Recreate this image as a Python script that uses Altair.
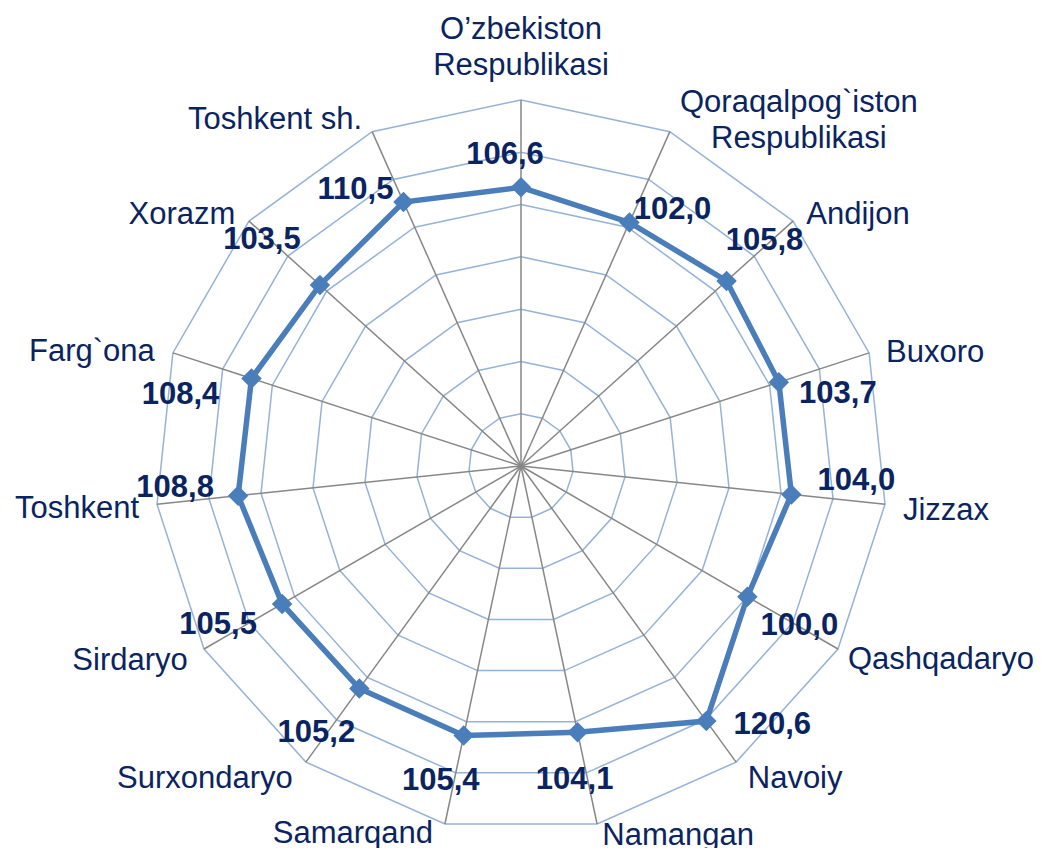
import math
import altair as alt
import pandas as pd

# ---- data ----
CATEGORIES = [
    "O’zbekiston\nRespublikasi", "Qoraqalpog`iston\nRespublikasi", "Andijon", "Buxoro",
    "Jizzax", "Qashqadaryo", "Navoiy", "Namangan", "Samarqand", "Surxondaryo",
    "Sirdaryo", "Toshkent", "Farg`ona", "Xorazm", "Toshkent sh.",
]
VALUES = [106.6, 102.0, 105.8, 103.7, 104.0, 100.0, 120.6, 104.1, 105.4, 105.2,
          105.5, 108.8, 108.4, 103.5, 110.5]
RING_TICKS = [20, 40, 60, 80, 100, 120, 140]
R_MAX = 140

# ---- layout (pixel nudges of labels, relative to their anchor) ----
VALUE_NUDGE = [(-16, -32), (43, -12), (38, -40), (59, 12), (65, -13), (52, 29), (66, 4),
               (-3, 48), (-23, 45), (-43, 45), (-64, 21), (-63, -8), (-71, 17),
               (-58, -45), (-48, -12)]
CAT_NUDGE = [(0, -70), (129, -29), (65, -6), (66, 0), (61, 7), (103, 11), (59, 17),
             (81, 12), (-92, 10), (-101, 17), (-74, 12), (-80, 5), (-81, -1),
             (-67, -6), (-97, -12)]

W, H = 1029, 840
CX, CY = 513, 458          # centre of the radar inside the plot area (px)
K = 366 / R_MAX            # px per value unit
XD = [-CX / K, (W - CX) / K]
YD = [-(H - CY) / K, CY / K]

n = len(CATEGORIES)
ang = [2 * math.pi * i / n for i in range(n)]

def pol(r, a):
    return r * math.sin(a), r * math.cos(a)

rings = []
for r in RING_TICKS:
    for j in range(n + 1):
        x, y = pol(r, ang[j % n])
        rings.append({"ring": r, "o": j, "x": x, "y": y})
rings = pd.DataFrame(rings)

spokes = pd.DataFrame([{"x0": 0.0, "y0": 0.0,
                        "x": pol(R_MAX, a)[0], "y": pol(R_MAX, a)[1]} for a in ang])

pts = []
for i, (c, v) in enumerate(zip(CATEGORIES, VALUES)):
    x, y = pol(v, ang[i])
    dx, dy = VALUE_NUDGE[i]
    pts.append({"cat": c, "v": v, "o": i, "x": x, "y": y,
                "lx": x + dx / K, "ly": y - dy / K,
                "label": f"{v:.1f}".replace(".", ",")})
pts = pd.DataFrame(pts)
line_df = pd.concat([pts, pts.iloc[[0]].assign(o=n)], ignore_index=True)

cats = []
for i, c in enumerate(CATEGORIES):
    x, y = pol(R_MAX, ang[i])
    dx, dy = CAT_NUDGE[i]
    cats.append({"cat": c, "x": x + dx / K, "y": y - dy / K})
cats = pd.DataFrame(cats)

xs = alt.Scale(domain=XD, nice=False, zero=False)
ys = alt.Scale(domain=YD, nice=False, zero=False)
X = lambda f="x": alt.X(f"{f}:Q", scale=xs, axis=None)
Y = lambda f="y": alt.Y(f"{f}:Q", scale=ys, axis=None)

ring_layer = alt.Chart(rings).mark_line(color="#95B3D7", strokeWidth=1.5).encode(
    x=X(), y=Y(), detail="ring:N", order="o:Q")

spoke_layer = alt.Chart(spokes).mark_rule(color="#878787", strokeWidth=1.5).encode(
    x=X("x0"), y=Y("y0"), x2="x:Q", y2="y:Q")

series = alt.Chart(line_df).mark_line(color="#4A7EBB", strokeWidth=5.5).encode(
    x=X(), y=Y(), order="o:Q")

markers = alt.Chart(pts).mark_point(shape="diamond", filled=True, size=420,
                                    color="#4A7EBB", opacity=1).encode(x=X(), y=Y())

vlabels = alt.Chart(pts).mark_text(font="Liberation Sans", fontSize=31, fontWeight="bold",
                                   color="#0A2462", align="center", baseline="middle").encode(
    x=X("lx"), y=Y("ly"), text="label:N")

clabels = alt.Chart(cats).mark_text(font="Liberation Sans", fontSize=31, color="#0A2462",
                                    align="center", baseline="middle", lineBreak="\n",
                                    lineHeight=36).encode(
    x=X(), y=Y(), text="cat:N")

chart = alt.layer(ring_layer, spoke_layer, series, markers, vlabels, clabels).properties(
    width=W, height=H, padding=0, autosize=alt.AutoSizeParams(type="none"),
    background="white",
).configure_view(strokeWidth=0)

chart.save("out.html", embed_options={"renderer": "svg", "actions": False})
